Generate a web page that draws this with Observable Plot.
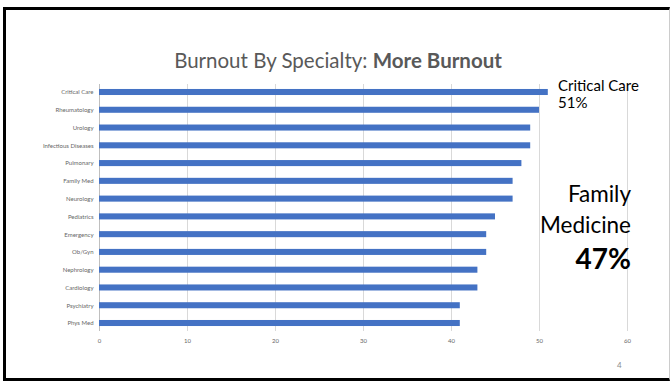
<!DOCTYPE html>
<html>
<head>
<meta charset="utf-8">
<script src="https://cdn.jsdelivr.net/npm/d3@7"></script>
<script src="https://cdn.jsdelivr.net/npm/@observablehq/plot@0.6"></script>
<style>
  html, body { margin: 0; padding: 0; background: #fff; }
  #slide { position: relative; width: 670px; height: 382px; overflow: hidden; font-family: Lato, "Open Sans", sans-serif; }
  #frame { position: absolute; left: 3px; top: 7px; width: 663px; height: 368px;
           border-left: 3px solid #000; border-top: 3px solid #000; border-bottom: 3px solid #000; border-right: 1px solid #ccc; }
  #chart { position: absolute; left: 0; top: 0; }
  .t { position: absolute; white-space: nowrap; }
</style>
</head>
<body>
<div id="slide">
  <div id="frame"></div>
  <div id="chart"></div>
  <div class="t" style="left:0;width:676px;top:48px;text-align:center;font-size:20.5px;color:#595959;">Burnout By Specialty: <b>More Burnout</b></div>
  <div class="t" style="left:558px;top:77px;font-size:15px;color:#000;line-height:17px;">Critical Care<br>51%</div>
  <div class="t" style="right:39px;top:178px;font-size:22.5px;color:#000;text-align:right;line-height:31px;">Family<br>Medicine</div>
  <div class="t" style="right:39px;top:241px;font-size:28px;font-weight:bold;color:#000;text-align:right;">47%</div>
  <div class="t" style="left:617px;top:360px;font-size:8px;color:#8c8c8c;">4</div>
</div>
<script>
const specialties = ["Critical Care","Rheumatology","Urology","Infectious Diseases","Pulmonary","Family Med","Neurology","Pediatrics","Emergency","Ob/Gyn","Nephrology","Cardiology","Psychiatry","Phys Med"];
const burnout = [51,50,49,49,48,47,47,45,44,44,43,43,41,41];
const xTicks = [0,10,20,30,40,50,60];

const data = specialties.map((s, i) => ({specialty: s, value: burnout[i]}));

const chart = Plot.plot({
  width: 670,
  height: 382,
  marginLeft: 99,
  marginRight: 43,
  marginTop: 84,
  marginBottom: 51,
  style: {fontFamily: "Lato, 'Open Sans', sans-serif", background: "transparent"},
  x: {domain: [0, 60], ticks: xTicks, tickSize: 0, tickPadding: 7, label: null},
  y: {domain: specialties, paddingInner: 0.66, paddingOuter: 0.28, round: false, tickSize: 0, tickPadding: 6, label: null},
  marks: [
    Plot.ruleX(xTicks.filter(d => d > 0), {stroke: "#d9d9d9", strokeWidth: 1, strokeOpacity: 1}),
    Plot.ruleX([0], {stroke: "#bfbfbf", strokeWidth: 1}),
    Plot.barX(data, {x: "value", y: "specialty", fill: "#4472C4"}),
    Plot.axisX({ticks: xTicks, tickSize: 0, tickPadding: 7, fontSize: 6, color: "#666666", label: null}),
    Plot.axisY({tickSize: 0, tickPadding: 6, fontSize: 6, color: "#666666", label: null})
  ]
});
document.getElementById("chart").appendChild(chart);
</script>
</body>
</html>
